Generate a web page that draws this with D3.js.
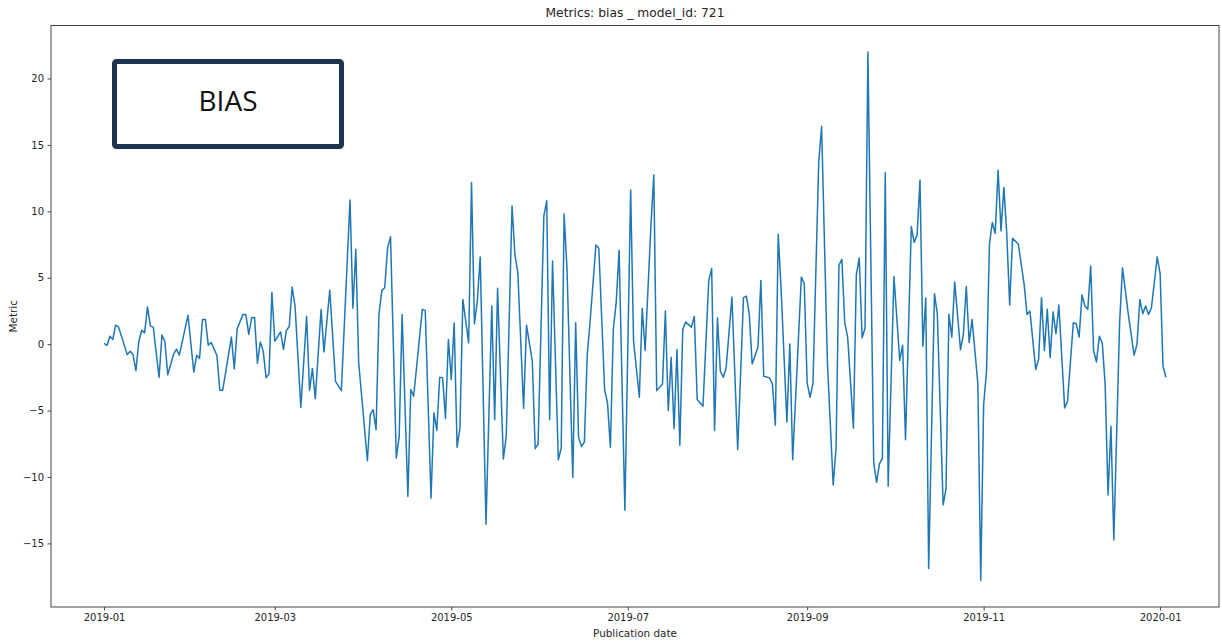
<!DOCTYPE html>
<html>
<head>
<meta charset="utf-8">
<script src="https://cdn.jsdelivr.net/npm/d3@7"></script>
<style>
  body { margin: 0; background: #fff; }
  text { font-family: "DejaVu Sans", sans-serif; fill: #262626; }
</style>
</head>
<body>
<div class="canvas"></div>
<script>
// data: day offset from start date, bias value
const startDate = '2019-01-01'
const dayOffset = [
  0,1,2,3,4,5,8,9,10,11,12,13,14,15,16,17,19,20,21,22,24,25,26,29,31,32,33,34,35,36,37,39,40,41,44,45,46,48,49,50,
  51,52,53,54,55,56,57,58,59,61,62,63,64,65,66,68,70,71,72,73,75,76,78,80,82,85,86,87,88,91,92,93,94,95,96,97,98,99,
  101,102,103,105,106,107,110,111,113,114,115,116,117,118,119,120,121,122,123,124,126,127,128,129,130,132,134,135,136,
  138,139,141,142,143,145,146,148,149,150,152,153,154,155,157,158,159,160,162,163,164,165,166,167,168,170,171,173,174,
  175,176,177,178,180,182,183,185,186,187,189,190,191,193,194,195,196,197,198,199,200,201,203,204,205,207,209,210,211,
  212,213,214,215,217,219,221,222,223,224,226,227,228,230,231,232,233,234,236,237,238,241,242,243,244,245,247,248,250,
  252,253,254,255,256,257,259,260,261,262,263,264,266,267,268,269,270,271,273,275,276,277,279,280,281,282,283,284,285,
  287,288,290,291,292,293,294,296,297,298,299,300,302,303,304,305,306,307,308,309,310,311,312,313,314,316,318,319,320,
  322,323,324,325,326,327,328,329,330,332,333,335,336,337,338,339,340,341,342,343,344,345,346,347,348,349,351,352,354,
  356,357,358,359,360,361,362,364,365,366,367
]
const biasValue = [
  0.05,-0.1,0.6,0.35,1.43,1.28,-0.78,-0.53,-0.78,-2.0,0.2,1.05,0.85,2.8,1.36,1.28,-2.5,0.68,0.2,-2.3,-0.78,-0.38,-0.83,2.17,-2.1,-0.83,-1.08,1.86,1.86,-0.08,0.13,-0.85,-3.47,-3.47,0.53,-1.86,1.15,2.24,2.24,0.73,
  1.98,2.0,-1.43,0.17,-0.53,-2.54,-2.24,3.9,0.23,0.93,-0.4,1.03,1.33,4.3,2.87,-4.75,2.1,-3.47,-1.84,-4.1,2.6,-0.58,4.05,-2.8,-3.5,10.85,2.7,7.15,-1.4,-8.78,-5.3,-4.93,-6.44,2.24,4.05,4.25,7.27,8.08,
  -8.58,-6.94,2.24,-11.47,-3.42,-3.92,2.62,2.54,-11.6,-5.18,-6.5,-2.49,-2.54,-5.6,0.35,-2.67,1.6,-7.77,-6.3,3.37,0.1,12.17,1.53,3.25,6.57,-13.56,2.87,-5.69,4.2,
  -8.65,-6.94,10.4,6.72,5.38,-4.85,1.43,-1.28,-7.87,-7.52,9.66,10.8,-5.69,6.26,-8.7,-7.82,9.79,5.64,-10.04,1.61,-7.02,-7.7,-7.37,-0.78,1.74,7.47,7.22,-3.42,-4.43,
  -7.77,1.1,3.12,7.07,-12.5,11.6,0.23,-4.0,2.7,-0.48,8.9,12.75,-3.5,-3.0,2.49,-5.0,-0.98,-6.36,-0.4,-7.62,1.1,1.66,1.28,2.09,-4.17,-4.68,4.8,5.7,-6.5,
  1.98,-2.04,-2.49,-1.79,3.55,-7.95,3.5,3.62,2.24,-1.49,-0.23,4.8,-2.42,-2.54,-3.0,-6.11,8.28,4.13,-5.86,0.02,-8.7,5.06,4.55,-2.92,-4.0,-2.97,13.7,16.4,-1.36,
  -10.6,-7.8,5.95,6.38,1.6,0.53,-6.33,5.22,6.49,0.47,1.2,22.0,-8.9,-10.4,-9.0,-8.6,12.9,-10.7,5.09,-1.23,-0.08,-7.2,8.85,7.65,8.2,12.35,-0.15,3.47,-16.9,
  3.8,2.26,-12.1,-10.9,2.26,0.52,4.68,-0.42,0.74,4.34,0.12,1.86,-2.97,-17.8,-4.55,-2.04,7.52,9.16,8.33,13.1,8.53,11.8,8.28,2.94,7.97,7.52,4.5,2.24,2.49,
  -1.91,-1.15,3.5,-0.48,2.62,-1.03,2.44,0.78,2.94,-4.8,-4.3,1.61,1.53,0.53,3.7,2.87,2.62,5.89,-0.48,-1.34,0.6,0.1,-3.04,-11.35,-6.19,-14.74,1.61,5.76,2.24,
  -0.83,-0.02,3.37,2.29,2.87,2.24,2.74,6.57,5.3,-1.66,-2.49
]
const xTickLabels = ['2019-01','2019-03','2019-05','2019-07','2019-09','2019-11','2020-01']
const yTicks = [-15,-10,-5,0,5,10,15,20]

const margin = {top: 25.5, right: 3, bottom: 37, left: 51}
const graphWidth = 1222 - margin.left - margin.right
const graphHeight = 644 - margin.top - margin.bottom

const svg = d3.select('.canvas')
  .append('svg')
  .attr('width', 1222)
  .attr('height', 644)

const graph = svg.append('g')
  .attr('transform', `translate(${margin.left}, ${margin.top})`)

const start = d3.timeParse('%Y-%m-%d')(startDate)
const data = dayOffset.map((d, i) => ({date: d3.timeDay.offset(start, d), value: biasValue[i]}))

// matplotlib style 5% padding around the data
const xExt = d3.extent(data, d => +d.date)
const xPad = (xExt[1] - xExt[0]) * 0.05
const yExt = d3.extent(data, d => d.value)
const yPad = (yExt[1] - yExt[0]) * 0.05

const x = d3.scaleTime()
  .domain([new Date(xExt[0] - xPad), new Date(xExt[1] + xPad)])
  .range([0, graphWidth])
const y = d3.scaleLinear()
  .domain([yExt[0] - yPad, yExt[1] + yPad])
  .range([graphHeight, 0])

const parseMonth = d3.timeParse('%Y-%m')
const xAxis = d3.axisBottom(x)
  .tickValues(xTickLabels.map(parseMonth))
  .tickFormat(d3.timeFormat('%Y-%m'))
  .tickSize(3.5)
  .tickPadding(3.5)
const yAxis = d3.axisLeft(y)
  .tickValues(yTicks)
  .tickFormat(d => d < 0 ? '\u2212' + Math.abs(d) : d)
  .tickSize(3.5)
  .tickPadding(3.5)

const xAxisGroup = graph.append('g')
  .attr('transform', `translate(0, ${graphHeight})`)
  .call(xAxis)
const yAxisGroup = graph.append('g')
  .call(yAxis)

graph.selectAll('.domain').remove()
graph.selectAll('.tick line').attr('stroke', '#333').attr('stroke-width', 0.9)
graph.selectAll('.tick text')
  .attr('font-size', 10)
  .attr('fill', '#262626')
  .style('font-family', '"DejaVu Sans", sans-serif')

// the line
const line = d3.line()
  .x(d => x(d.date))
  .y(d => y(d.value))

graph.append('path')
  .datum(data)
  .attr('fill', 'none')
  .attr('stroke', '#1f77b4')
  .attr('stroke-width', 1.5)
  .attr('stroke-linejoin', 'round')
  .attr('d', line)

// frame
graph.append('rect')
  .attr('width', graphWidth)
  .attr('height', graphHeight)
  .attr('fill', 'none')
  .attr('stroke', '#444')
  .attr('stroke-width', 1)

// title and labels
svg.append('text')
  .text('Metrics: bias _ model_id: 721')
  .attr('x', margin.left + graphWidth / 2)
  .attr('y', 17)
  .attr('text-anchor', 'middle')
  .attr('font-size', 12.3)

svg.append('text')
  .text('Publication date')
  .attr('x', margin.left + graphWidth / 2)
  .attr('y', 637)
  .attr('text-anchor', 'middle')
  .attr('font-size', 10.4)

svg.append('text')
  .text('Metric')
  .attr('transform', `translate(17, ${margin.top + graphHeight / 2}) rotate(-90)`)
  .attr('text-anchor', 'middle')
  .attr('font-size', 10.4)

// BIAS box
svg.append('rect')
  .attr('x', 114.5)
  .attr('y', 61.5)
  .attr('width', 227)
  .attr('height', 85)
  .attr('rx', 2)
  .attr('fill', 'none')
  .attr('stroke', '#1e334f')
  .attr('stroke-width', 5)

svg.append('text')
  .text('BIAS')
  .attr('x', 228)
  .attr('y', 110.5)
  .attr('text-anchor', 'middle')
  .attr('font-size', 28)
  .style('font-family', '"Open Sans", sans-serif')
  .style('fill', '#111')
</script>
</body>
</html>
